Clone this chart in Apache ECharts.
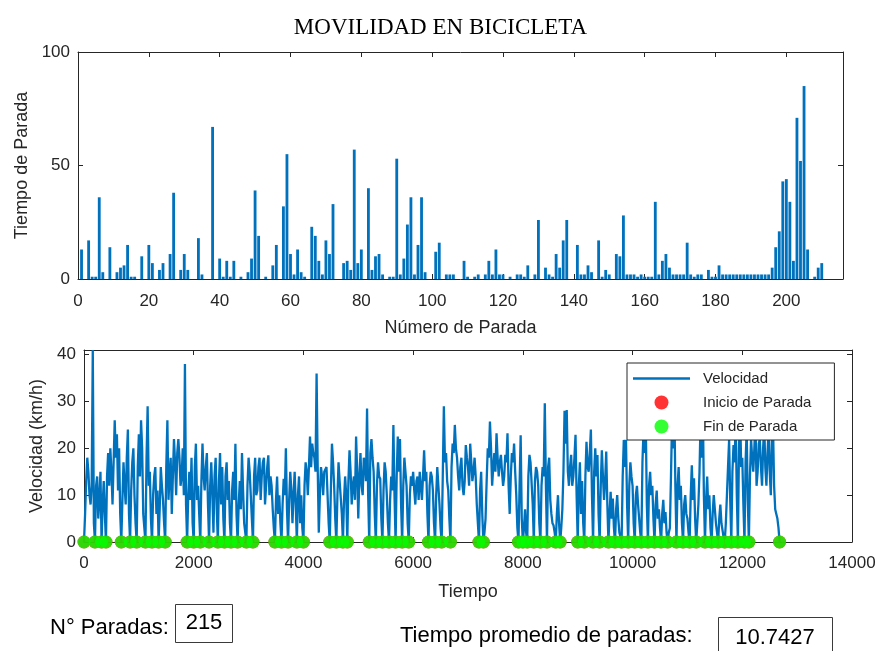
<!DOCTYPE html>
<html><head><meta charset="utf-8">
<script src="https://cdn.jsdelivr.net/npm/echarts@6/dist/echarts.min.js"></script>
<style>html,body{margin:0;padding:0;background:#fff}#c{width:881px;height:651px}</style>
</head><body><div id="c"></div>
<script>
// ---- Data ----
const tituloTexto = 'MOVILIDAD EN BICICLETA';
// Tiempo de cada parada (paradas 1..215)
const tiempoParada = [
 13,0,17,1,1,36,3,0,14,0,
 3,5,6,15,1,1,0,10,0,15,
 7,0,4,7,0,11,38,0,4,11,
 4,0,0,18,2,0,0,67,0,9,
 1,8,1,8,0,1,0,3,9,39,
 19,0,1,0,6,15,0,32,55,11,
 2,13,3,1,0,23,19,8,2,17,
 11,33,0,0,7,8,4,57,7,13,
 0,40,4,10,11,2,0,1,1,53,
 2,9,24,36,2,15,36,3,0,0,
 12,16,0,2,2,2,0,0,8,1,
 0,1,2,0,2,8,2,13,2,2,
 0,1,0,2,2,1,6,0,2,26,
 0,5,2,1,11,5,17,26,0,0,
 15,2,2,6,3,0,17,1,4,2,
 0,11,10,28,2,2,2,1,2,1,
 1,1,34,2,8,11,5,2,2,2,
 2,16,2,1,2,2,0,4,1,1,
 6,2,2,2,2,2,2,2,2,2,
 2,2,2,2,2,5,14,21,43,44,
 34,8,71,52,85,13,0,1,5,7,
 0,0,0,0,0
];
// Velocidad (km/h) muestreada cada dt unidades de tiempo
const dt = 20;
const velocidad = [
 0,6,13,18,15,10,8,12,41,4,0,12,14,5,9,15,0,8,13,6,
 0,14,19,12,20,15,8,17,26,18,23,11,20,6,0,9,17,12,8,18,
 24,6,0,11,17,20,10,4,0,16,23,14,26,20,6,3,0,18,29,12,
 15,5,0,10,14,16,6,11,0,7,16,12,9,4,0,16,26,9,14,18,
 6,14,22,17,10,19,22,18,12,14,20,10,38,8,0,10,15,9,18,4,
 0,16,21,9,12,6,0,13,21,14,11,16,19,8,0,12,17,10,2,14,
 18,7,0,13,19,8,16,5,0,14,17,9,13,4,0,11,15,9,21,6,
 0,8,13,7,19,11,4,2,0,12,18,15,10,5,0,14,18,10,11,16,
 18,9,14,17,18,8,12,16,18.5,10,14,12,7,3,0,9,14,6,10,4,
 0,8,13.5,10,20,7,0,9,15,11,4,10,15,8,0,10,14,4,10,3,
 0,12,17,15,10,16,22.5,16,21,19,18,15,36,16,2,10,16,14,10,15,
 15,16,10,4,0,11,21,17,12,5,0,10,17,13,13,6,0,9,14,10,
 0,13,19.6,15,8,12,14,9,22.5,15,5,14,19,12,10,18,17,13,28.5,10,
 0,19,22,18,15,6,0,12,17,14,13.5,5,0,11,17,15,10,4,0,9,
 14,11,25,10,0,14,22.5,15,22,8,0,12,18,15,12,4,0,10,14,12,
 15,11,8,13,14,9,15,12,9,14,19.6,13,15,6,0,12,15,14,11,4,
 0,10,16,12,8,3,0,14,29,17,19,13,11,5,0,16,21,19,25,20,
 18,14,11,16,18,12,10,13,20.7,18,16,12,21,17,13,15,18,14,8,4,
 0,11,15,6,0,2,5,13,20,18,25.7,20,12,16,19,15,23.2,18,14,17,
 18.6,15,12,14,18.6,17,23.2,12,6,14,19,17,21,15,10,3,0,12,22.8,5,
 0,3,7,2,0,14,18.6,17,17,8,0,13,16,15,12,4,0,12,16,14,
 29.6,12,0,16,18,9,6,4,3.5,2,0,6,10,4,0,3,7,15,28,21,
 28.2,15,12,16,18.6,12,14,18,22.9,10,0,12,17,6,13,4,0,14,21.4,16,
 15,19,24,10,0,15,20,14,18.6,6,0,12,19.6,14,9,13,19.3,8,0,6,
 10.7,5,9.3,3,0,7,10,5,2,1,0,14,21.8,16,21.8,8,0,12,17,14,
 12,4,0,10,12,8,5,2,0,17,24,19,26,8,0,12,15,10,12,5,
 0,8,11,5,7,3,0,6,9,4,6.4,2,0,2,3,14,26,20,30,12,
 0,12,16,9,12,4,0,8,10,6,5,2,0,10,16.4,9,13.6,5,0,4,
 8,15,26,18,30,10,0,9,14,7,10,3,0,6,10,7,4,2,0,5,
 8,4,3.6,1,0,4,10,16,21.8,9,0,15,20.7,17,26,10,0,20,28,16,
 18,8,0,17,24,9,0,14,22,18,15,20,26,12,15,21,22,16,12,20,
 25,16,12,19,24,15,10,22,25,12,7,6,5,3,0
];
const ticksTop = {min:0, max:216, interval:20};
const ticksTopY = {min:0, max:100, interval:50};
const ticksBot = {min:0, max:14000, interval:2000};
const ticksBotY = {min:0, max:41, interval:10};
const promedioTexto = '10.7427';

// ---- Chart ----
const AX = '#262626';
const FONT = '"Liberation Sans", Arial, Helvetica, sans-serif';
const BLUE = '#0072BD';
const g1 = {left:78, top:52, width:765, height:227};
const g2 = {left:84, top:350, width:768, height:192};

const barData = tiempoParada.map((v,i)=>[i+1, v]);
const velData = velocidad.map((v,i)=>[i*dt, v]);
const stopPts = velData.filter(p=>p[1]===0);

function ax(extra, labels, margin, hideMax){
  return Object.assign({
    type:'value',
    axisLine:{show:true,onZero:false,lineStyle:{color:AX,width:1}},
    axisTick:{show:true,inside:true,length:5,lineStyle:{color:AX,width:1}},
    splitLine:{show:false},
    axisLabel:{show:labels,color:AX,fontFamily:FONT,fontSize:17,margin:margin||8,
      showMaxLabel:!hideMax, formatter:v=>String(v)},
    nameTextStyle:{color:AX,fontFamily:FONT,fontSize:18},
    silent:true
  }, extra);
}

const option = {
  animation:false,
  backgroundColor:'#fff',
  title:{text:tituloTexto,left:'center',top:11,
    textStyle:{fontFamily:'"Liberation Serif", "Times New Roman", serif',fontWeight:'normal',fontSize:23,color:'#000'}},
  grid:[g1,g2],
  xAxis:[
    ax(Object.assign({gridIndex:0,position:'bottom',name:'Número de Parada',nameLocation:'middle',nameGap:40},ticksTop),true,14,true),
    ax(Object.assign({gridIndex:0,position:'top'},ticksTop),false),
    ax(Object.assign({gridIndex:1,position:'bottom',name:'Tiempo',nameLocation:'middle',nameGap:41},ticksBot),true,13,false),
    ax(Object.assign({gridIndex:1,position:'top'},ticksBot),false)
  ],
  yAxis:[
    ax(Object.assign({gridIndex:0,position:'left',name:'Tiempo de Parada',nameLocation:'middle',nameGap:46},ticksTopY),true,8,false),
    ax(Object.assign({gridIndex:0,position:'right'},ticksTopY),false),
    ax(Object.assign({gridIndex:1,position:'left',name:'Velocidad (km/h)',nameLocation:'middle',nameGap:33},ticksBotY),true,8,true),
    ax(Object.assign({gridIndex:1,position:'right'},ticksBotY),false)
  ],
  legend:{
    orient:'vertical', left:627, top:363,
    data:[
      {name:'Velocidad', icon:'path://M0,0 L57,0 L57,2.5 L0,2.5 Z'},
      {name:'Inicio de Parada', icon:'circle'},
      {name:'Fin de Parada', icon:'circle'}
    ],
    itemWidth:57, itemHeight:14, itemGap:9,
    padding:[8,23,6,6],
    backgroundColor:'#fff', borderColor:AX, borderWidth:1, borderRadius:0,
    textStyle:{fontFamily:FONT,fontSize:15,color:AX,padding:[0,0,0,8]},
    selectedMode:false
  },
  series:[
    {type:'bar', name:'Tiempo de Parada', xAxisIndex:0, yAxisIndex:0, data:barData,
      barWidth: g1.width/(ticksTop.max-ticksTop.min)*0.8,
      itemStyle:{color:BLUE}, silent:true},
    {type:'line', name:'Velocidad', xAxisIndex:2, yAxisIndex:2, data:velData,
      symbol:'none', showSymbol:false, lineStyle:{color:BLUE,width:2.3}, itemStyle:{color:BLUE}, silent:true, z:2},
    {type:'scatter', name:'Inicio de Parada', xAxisIndex:2, yAxisIndex:2, data:stopPts,
      symbol:'circle', symbolSize:13, itemStyle:{color:'#FF0000'}, silent:true, z:3, clip:false},
    {type:'scatter', name:'Fin de Parada', xAxisIndex:2, yAxisIndex:2, data:stopPts,
      symbol:'circle', symbolSize:13, itemStyle:{color:'#00FF00'}, silent:true, z:4, clip:false}
  ],
  graphic:[
    {type:'text', left:50, top:617, style:{text:'N° Paradas:', font:'22px "Liberation Sans", Arial, sans-serif', fill:'#000'}},
    {type:'rect', shape:{x:175.5,y:604.5,width:57,height:38}, style:{fill:'#fff',stroke:'#3a3a3a',lineWidth:1}},
    {type:'text', x:204, y:623, style:{text:String(tiempoParada.length), font:'22px "Liberation Sans", Arial, sans-serif', fill:'#000', align:'center', verticalAlign:'middle'}},
    {type:'text', left:400, top:625, style:{text:'Tiempo promedio de paradas:', font:'22px "Liberation Sans", Arial, sans-serif', fill:'#000'}},
    {type:'rect', shape:{x:718.5,y:617.5,width:114,height:40}, style:{fill:'#fff',stroke:'#3a3a3a',lineWidth:1}},
    {type:'text', x:775, y:638, style:{text:promedioTexto, font:'22px "Liberation Sans", Arial, sans-serif', fill:'#000', align:'center', verticalAlign:'middle'}}
  ]
};
const chart = echarts.init(document.getElementById('c'));
chart.setOption(option);
</script>
</body></html>
